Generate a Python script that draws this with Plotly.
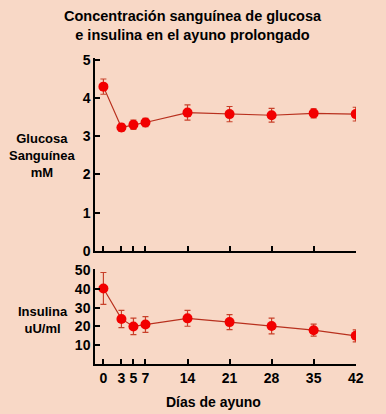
import plotly.graph_objects as go
from plotly.subplots import make_subplots

days = [0, 3, 5, 7, 14, 21, 28, 35, 42]
glucosa = [4.3, 3.23, 3.3, 3.36, 3.62, 3.58, 3.55, 3.6, 3.58]
glucosa_err = [0.2, 0.1, 0.12, 0.11, 0.2, 0.2, 0.18, 0.12, 0.18]
insulina = [40.2, 24.0, 20.0, 21.0, 24.3, 22.3, 20.2, 18.0, 15.0]
insulina_err = [8.5, 4.6, 4.4, 4.2, 4.2, 4.0, 4.2, 3.2, 3.2]
x_ticks = [0, 3, 5, 7, 14, 21, 28, 35, 42]
glu_ticks = [0, 1, 2, 3, 4, 5]
ins_ticks = [10, 20, 30, 40, 50]

bg = "#F8D8C6"
line_col = "#B8301E"
mark_col = "#F20000"
err_col = "#C8402A"
font_fam = "Liberation Sans, Arial, sans-serif"

fig = make_subplots(rows=2, cols=1, shared_xaxes=False, vertical_spacing=0.06,
                    row_heights=[0.63, 0.31])

fig.add_trace(go.Scatter(
    x=days, y=glucosa, mode="lines+markers",
    line=dict(color=line_col, width=1.2),
    marker=dict(color=mark_col, size=10),
    error_y=dict(type="data", array=glucosa_err, color=err_col, thickness=1.2, width=3),
    showlegend=False), row=1, col=1)

fig.add_trace(go.Scatter(
    x=days, y=insulina, mode="lines+markers",
    line=dict(color=line_col, width=1.2),
    marker=dict(color=mark_col, size=10),
    error_y=dict(type="data", array=insulina_err, color=err_col, thickness=1.2, width=3),
    showlegend=False), row=2, col=1)

axis_common = dict(showgrid=False, zeroline=False, showline=True, linecolor="black",
                   linewidth=1.5, ticks="inside", tickcolor="black", tickwidth=1.5,
                   ticklen=5,
                   tickfont=dict(family=font_fam, size=14, color="black", weight="bold"))

fig.update_xaxes(range=[-1.4, 42.05], tickvals=x_ticks, showticklabels=False,
                 **axis_common, row=1, col=1)
fig.update_xaxes(range=[-1.4, 42.05], tickvals=x_ticks, ticktext=[str(v) for v in x_ticks],
                 **axis_common, row=2, col=1)
fig.update_yaxes(range=[0, 5.05], tickvals=glu_ticks, **axis_common, row=1, col=1)
fig.update_yaxes(range=[0, 50.5], tickvals=ins_ticks, **axis_common, row=2, col=1)

fig.update_layout(
    width=378, height=406,
    margin=dict(l=87, r=30, t=50, b=50),
    paper_bgcolor=bg, plot_bgcolor=bg,
    font=dict(family=font_fam, color="black"),
    annotations=[
        dict(text="<b>Concentración sanguínea de glucosa<br>e insulina en el ayuno prolongado</b>",
             xref="paper", yref="paper", x=0.374, y=1.105, xanchor="center", yanchor="middle",
             showarrow=False, font=dict(size=14.5, family=font_fam)),
        dict(text="<b>Glucosa<br>Sanguínea<br>mM</b>", xref="paper", yref="paper",
             x=-0.20, y=0.68, xanchor="center", yanchor="middle", showarrow=False,
             font=dict(size=13, family=font_fam)),
        dict(text="<b>Insulina<br>uU/ml</b>", xref="paper", yref="paper",
             x=-0.20, y=0.144, xanchor="center", yanchor="middle", showarrow=False,
             font=dict(size=13, family=font_fam)),
        dict(text="<b>Días de ayuno</b>", xref="paper", yref="paper",
             x=0.453, y=-0.124, xanchor="center", yanchor="middle", showarrow=False,
             font=dict(size=14, family=font_fam)),
    ],
)

fig.write_html("out.html", post_script="document.body.style.background='#F8D8C6';")
